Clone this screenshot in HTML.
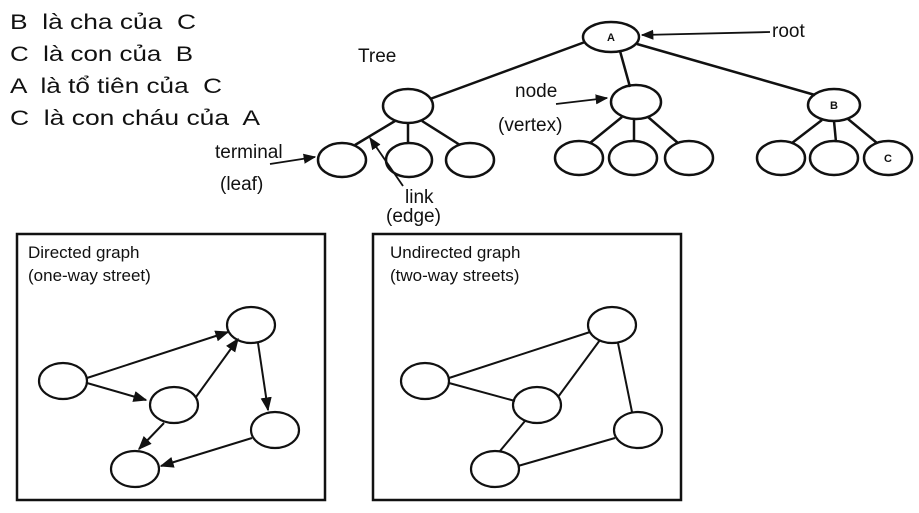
<!DOCTYPE html>
<html><head><meta charset="utf-8"><style>
html,body{margin:0;padding:0;background:#fff;}
svg{display:block;}
text{font-family:"Liberation Sans",sans-serif;fill:#111;white-space:pre;}
</style></head><body>
<svg width="919" height="513" viewBox="0 0 919 513" xmlns="http://www.w3.org/2000/svg" xml:space="preserve">
<defs>
<marker id="ar" viewBox="0 0 10 10" refX="9" refY="5" markerWidth="7" markerHeight="7" orient="auto-start-reverse">
<path d="M0,1 L10,5 L0,9 z" fill="#111"/></marker>
</defs>
<g font-size="21">
<text x="10" y="29" textLength="186" lengthAdjust="spacingAndGlyphs">B  là cha của  C</text>
<text x="10" y="61" textLength="183" lengthAdjust="spacingAndGlyphs">C  là con của  B</text>
<text x="10" y="93" textLength="212" lengthAdjust="spacingAndGlyphs">A  là tổ tiên của  C</text>
<text x="10" y="125" textLength="250" lengthAdjust="spacingAndGlyphs">C  là con cháu của  A</text>
</g>
<g font-size="19">
<text x="358" y="62">Tree</text>
<text x="772" y="37">root</text>
<text x="515" y="97">node</text>
<text x="498" y="131">(vertex)</text>
<text x="215" y="158">terminal</text>
<text x="220" y="190">(leaf)</text>
<text x="405" y="203">link</text>
<text x="386" y="222">(edge)</text>
</g>
<g stroke="#111" stroke-width="2.5" fill="none">
<line x1="585" y1="42" x2="430" y2="99"/>
<line x1="620" y1="51" x2="630" y2="87"/>
<line x1="637" y1="44" x2="815" y2="95"/>
<line x1="395" y1="121" x2="355" y2="145"/>
<line x1="408" y1="123" x2="408" y2="143"/>
<line x1="422" y1="121" x2="460" y2="145"/>
<line x1="622" y1="117" x2="590" y2="143"/>
<line x1="634" y1="119" x2="634" y2="142"/>
<line x1="648" y1="117" x2="678" y2="143"/>
<line x1="822" y1="120" x2="792" y2="143"/>
<line x1="834" y1="121" x2="836" y2="142"/>
<line x1="848" y1="119" x2="877" y2="143"/>
<ellipse cx="611" cy="37" rx="28" ry="15"/>
<ellipse cx="408" cy="106" rx="25" ry="17"/>
<ellipse cx="636" cy="102" rx="25" ry="17"/>
<ellipse cx="834" cy="105" rx="26" ry="16"/>
<ellipse cx="342" cy="160" rx="24" ry="17"/>
<ellipse cx="409" cy="160" rx="23" ry="17"/>
<ellipse cx="470" cy="160" rx="24" ry="17"/>
<ellipse cx="579" cy="158" rx="24" ry="17"/>
<ellipse cx="633" cy="158" rx="24" ry="17"/>
<ellipse cx="689" cy="158" rx="24" ry="17"/>
<ellipse cx="781" cy="158" rx="24" ry="17"/>
<ellipse cx="834" cy="158" rx="24" ry="17"/>
<ellipse cx="888" cy="158" rx="24" ry="17"/>
</g>
<g stroke="#111" stroke-width="1.8" fill="none">
<line x1="770" y1="32" x2="642" y2="35" marker-end="url(#ar)"/>
<line x1="556" y1="104" x2="607" y2="98" marker-end="url(#ar)"/>
<line x1="270" y1="164" x2="315" y2="157" marker-end="url(#ar)"/>
<line x1="403" y1="186" x2="370" y2="138" marker-end="url(#ar)"/>
</g>
<g font-weight="bold" font-size="11" text-anchor="middle">
<text x="611" y="41">A</text><text x="834" y="109">B</text><text x="888" y="162">C</text>
</g>
<g stroke="#111" stroke-width="2.5" fill="none">
<rect x="17" y="234" width="308" height="266"/>
<rect x="373" y="234" width="308" height="266"/>
</g>
<g font-size="17">
<text x="28" y="258">Directed graph</text>
<text x="28" y="281">(one-way street)</text>
<text x="390" y="258">Undirected graph</text>
<text x="390" y="281">(two-way streets)</text>
</g>
<g stroke="#111" stroke-width="2.2" fill="none">
<ellipse cx="251" cy="325" rx="24" ry="18"/>
<ellipse cx="63" cy="381" rx="24" ry="18"/>
<ellipse cx="174" cy="405" rx="24" ry="18"/>
<ellipse cx="275" cy="430" rx="24" ry="18"/>
<ellipse cx="135" cy="469" rx="24" ry="18"/>
<ellipse cx="612" cy="325" rx="24" ry="18"/>
<ellipse cx="425" cy="381" rx="24" ry="18"/>
<ellipse cx="537" cy="405" rx="24" ry="18"/>
<ellipse cx="638" cy="430" rx="24" ry="18"/>
<ellipse cx="495" cy="469" rx="24" ry="18"/>
</g>
<g stroke="#111" stroke-width="2" fill="none">
<line x1="87" y1="378" x2="228" y2="332" marker-end="url(#ar)"/>
<line x1="87" y1="383" x2="146" y2="400" marker-end="url(#ar)"/>
<line x1="196" y1="397" x2="238" y2="339" marker-end="url(#ar)"/>
<line x1="258" y1="343" x2="268" y2="410" marker-end="url(#ar)"/>
<line x1="164" y1="423" x2="139" y2="449" marker-end="url(#ar)"/>
<line x1="252" y1="438" x2="161" y2="466" marker-end="url(#ar)"/>
<line x1="449" y1="378" x2="590" y2="332"/>
<line x1="449" y1="383" x2="515" y2="401"/>
<line x1="558" y1="397" x2="600" y2="340"/>
<line x1="618" y1="343" x2="632" y2="412"/>
<line x1="525" y1="421" x2="500" y2="451"/>
<line x1="615" y1="438" x2="518" y2="466"/>
</g>
</svg>
</body></html>
